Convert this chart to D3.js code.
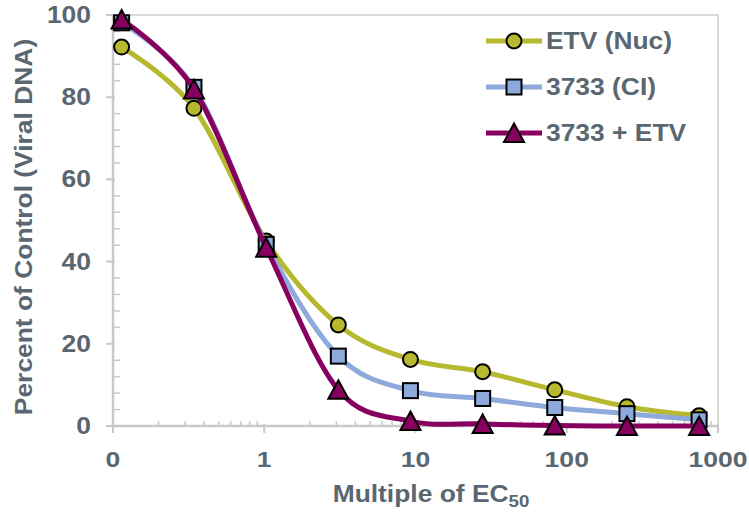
<!DOCTYPE html>
<html>
<head>
<meta charset="utf-8">
<script src="https://cdn.jsdelivr.net/npm/d3@7"></script>
<style>
  body { margin: 0; background: #fff; }
  text { font-family: "Liberation Sans", Arial, sans-serif; font-weight: bold; fill: #5a6670; }
</style>
</head>
<body>
<svg id="chart" width="749" height="514"></svg>
<script>
// multiples of EC50
var doses = [0.114, 0.343, 1.03, 3.09, 9.26, 27.8, 83.3, 250, 750];

var etvNuc   = [92.2, 77.3, 45.0, 24.6, 16.2, 13.2, 8.8, 4.7, 2.5];
var ci3733   = [98.1, 82.4, 44.2, 17.0, 8.6, 6.7, 4.5, 3.0, 1.5];
var combo    = [98.9, 81.9, 43.4, 8.8, 1.2, 0.5, 0.1, 0.0, 0.0];

var seriesNames = ["ETV (Nuc)", "3733 (CI)", "3733 + ETV"];
var xTicks = [0.1, 1, 10, 100, 1000];
var xTickLabels = ["0", "1", "10", "100", "1000"];
var yTicks = [0, 20, 40, 60, 80, 100];

var colors = ["#b6b92d", "#8eaadc", "#870060"];
var shapes = ["circle", "square", "triangle"];

var svg = d3.select("#chart");

var plotL = 113, plotR = 718, plotT = 15, plotB = 426;

var x = d3.scaleLog().domain([0.1, 1000]).range([plotL, plotR]);
var y = d3.scaleLinear().domain([0, 100]).range([plotB, plotT]);

// text slightly stretched sideways, like the original picture
function label(parent, tx, ty, str, size, sx, anchor, rot) {
    var g = parent.append("g")
        .attr("transform", "translate(" + tx + "," + ty + ")" + (rot ? " rotate(" + rot + ")" : "") + " scale(" + sx + ",1)");
    return g.append("text")
        .attr("text-anchor", anchor)
        .style("font-size", size + "px")
        .text(str);
}

// plot area border (top + right)
svg.append("path")
    .attr("d", "M" + plotL + "," + plotT + "H" + plotR + "V" + plotB)
    .style("fill", "none")
    .style("stroke", "#d9d9d9")
    .style("stroke-width", 2);

// minor ticks
var yMinor = d3.range(0, 101, 4).filter(d => d % 20 !== 0);
svg.append("g").selectAll("line")
    .data(yMinor)
    .enter().append("line")
    .attr("x1", plotL).attr("x2", plotL + 7)
    .attr("y1", d => y(d)).attr("y2", d => y(d))
    .style("stroke", "#c8c8c8").style("stroke-width", 1.5);

var xMinor = [];
[0.1, 1, 10, 100].forEach(function (dec) {
    for (var k = 2; k <= 9; k++) xMinor.push(dec * k);
});
svg.append("g").selectAll("line")
    .data(xMinor)
    .enter().append("line")
    .attr("x1", d => x(d)).attr("x2", d => x(d))
    .attr("y1", plotB).attr("y2", plotB - 5)
    .style("stroke", "#c8c8c8").style("stroke-width", 1.5);

// major ticks
svg.append("g").selectAll("line")
    .data(yTicks)
    .enter().append("line")
    .attr("x1", plotL - 7).attr("x2", plotL + 2)
    .attr("y1", d => y(d)).attr("y2", d => y(d))
    .style("stroke", "#c8c8c8").style("stroke-width", 2);

svg.append("g").selectAll("line")
    .data(xTicks)
    .enter().append("line")
    .attr("x1", d => x(d)).attr("x2", d => x(d))
    .attr("y1", plotB - 2).attr("y2", plotB + 7)
    .style("stroke", "#c8c8c8").style("stroke-width", 2);

// axis lines
svg.append("line")
    .attr("x1", plotL).attr("x2", plotL).attr("y1", plotT).attr("y2", plotB)
    .style("stroke", "#c8c8c8").style("stroke-width", 2.5);
svg.append("line")
    .attr("x1", plotL).attr("x2", plotR).attr("y1", plotB).attr("y2", plotB)
    .style("stroke", "#c8c8c8").style("stroke-width", 2.5);

// tick labels
yTicks.forEach(function (d) {
    label(svg, 91, y(d) + 8, d, 23, 1.15, "end");
});
xTicks.forEach(function (d, i) {
    label(svg, x(d), 467, xTickLabels[i], 22.5, 1.18, "middle");
});

// axis titles
label(svg, 32, 227, "Percent of Control (Viral DNA)", 24, 1.1, "middle", -90);

var xt = label(svg, 431, 502, "Multiple of EC", 24, 1.1, "middle");
xt.append("tspan").attr("dy", 5).style("font-size", "17px").text("50");

// marker drawing
function marker(g, shape, color) {
    if (shape === "circle") {
        g.append("circle").attr("r", 7.5);
    } else if (shape === "square") {
        g.append("rect").attr("x", -7.5).attr("y", -7.5).attr("width", 15).attr("height", 15);
    } else {
        g.append("path").attr("d", "M0,-9.5L10,9L-10,9Z");
    }
    g.selectAll("*")
        .style("fill", color)
        .style("stroke", "#000")
        .style("stroke-width", 2);
}

var line = d3.line()
    .x(d => x(d[0]))
    .y(d => y(d[1]))
    .curve(d3.curveCardinal.tension(0));

[etvNuc, ci3733, combo].forEach(function (vals, s) {
    var pts = doses.map((d, i) => [d, vals[i]]);
    var g = svg.append("g");
    g.append("path")
        .datum(pts)
        .attr("d", line)
        .style("fill", "none")
        .style("stroke", colors[s])
        .style("stroke-width", 5);
    g.selectAll("g.pt")
        .data(pts)
        .enter().append("g")
        .attr("class", "pt")
        .attr("transform", d => "translate(" + x(d[0]) + "," + y(d[1]) + ")")
        .each(function () { marker(d3.select(this), shapes[s], colors[s]); });
});

// legend
var legend = svg.append("g");
seriesNames.forEach(function (name, s) {
    var ly = 41 + s * 46;
    legend.append("line")
        .attr("x1", 486).attr("x2", 542).attr("y1", ly).attr("y2", ly)
        .style("stroke", colors[s]).style("stroke-width", 5);
    var m = legend.append("g").attr("transform", "translate(514," + ly + ")");
    marker(m, shapes[s], colors[s]);
    label(legend, 546, ly + 8, name, 24, 1.1, "start");
});
</script>
</body>
</html>
